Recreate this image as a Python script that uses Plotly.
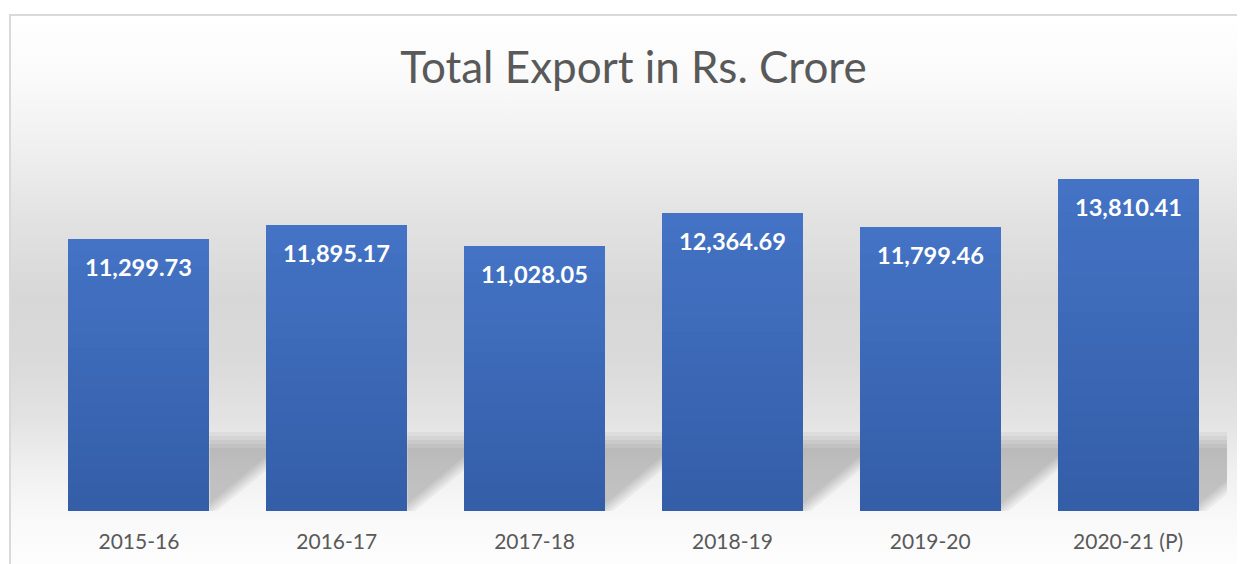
import base64
import plotly.graph_objects as go

# ---------------- data ----------------
categories = ["2015-16", "2016-17", "2017-18", "2018-19", "2019-20", "2020-21 (P)"]
values = [11299.73, 11895.17, 11028.05, 12364.69, 11799.46, 13810.41]
title_text = "Total Export in Rs. Crore"

# ---------------- layout constants ----------------
# the page body has an 8px margin, so the figure is drawn 8px in from the corner
OFF = 8
W, H = 1245 - OFF, 564 - OFF
ML, MR, MT, MB = 32, 18, 142, 53
YMAX = 15000
BARGAP = 0.288
pw = W - ML - MR
ph = H - MT - MB
px_per_x = pw / len(categories)
px_per_y = ph / YMAX

FONT = "Lato"
TXT = "#595959"

fig = go.Figure()
xs = list(range(len(categories)))

# bars with vertical gradient (stacked slices of each bar's own value)
N = 20
top_c = (68, 114, 196)
bot_c = (52, 94, 168)
for k in range(N):
    t = k / (N - 1)
    c = tuple(round(bot_c[j] + (top_c[j] - bot_c[j]) * t) for j in range(3))
    fig.add_trace(go.Bar(
        x=xs, y=[v / N for v in values],
        marker=dict(color="rgb(%d,%d,%d)" % c, line=dict(width=0)),
        customdata=values,
        hovertemplate="%{customdata:,.2f}<extra></extra>",
        showlegend=False,
    ))

# floor shadows to the right of each bar (soft, several layers)
half = (1 - BARGAP) / 2
r = 85 / 71
shapes = []
for i in xs:
    xr = i + half
    for s in range(5):
        sh = 8 - 4 * s
        htop = 71 + sh
        pts = [(0, htop), (sh + htop * r, htop), (0, -sh / r)]
        d = "M " + " L ".join(
            "%f,%f" % (xr + dx / px_per_x, up / px_per_y) for dx, up in pts
        ) + " Z"
        shapes.append(dict(type="path", path=d, xref="x", yref="y",
                           fillcolor="rgba(0,0,0,0.042)", line=dict(width=0),
                           layer="below"))

# data labels
annotations = []
for i, v in zip(xs, values):
    annotations.append(dict(
        x=i, y=v, xref="x", yref="y", text="<b>%s</b>" % f"{v:,.2f}",
        showarrow=False, yanchor="middle", yshift=-28,
        font=dict(family=FONT, size=23.6, color="white"),
    ))

# background (wall/floor gradient + chart border), in figure pixel coords
stops = [(6, "#ffffff"), (72, "#fafafa"), (142, "#efefef"), (212, "#e2e2e2"),
         (292, "#d7d7d7"), (352, "#dadada"), (412, "#e3e3e3"), (462, "#f0f0f0"),
         (512, "#f9f9f9"), (556, "#fdfdfd")]
stop_xml = "".join(
    '<stop offset="%.4f" stop-color="%s"/>' % ((y - 6) / (H - 6), c) for y, c in stops
)
svg = (
    '<svg xmlns="http://www.w3.org/2000/svg" width="%d" height="%d" viewBox="0 0 %d %d" preserveAspectRatio="none">'
    '<defs><linearGradient id="g" x1="0" y1="0" x2="0" y2="1">%s</linearGradient></defs>'
    '<rect x="0" y="0" width="%d" height="%d" fill="#ffffff"/>'
    '<rect x="2" y="6" width="%d" height="%d" fill="url(#g)"/>'
    '<path d="M2,%d V7 H%d" stroke="#d9d9d9" stroke-width="2" fill="none"/>'
    '</svg>'
) % (W, H, W, H, stop_xml, W, H, W - 2, H - 6, H, W)
src = "data:image/svg+xml;base64," + base64.b64encode(svg.encode()).decode()

fig.update_layout(
    width=W, height=H,
    margin=dict(l=ML, r=MR, t=MT, b=MB, pad=0),
    barmode="stack", bargap=BARGAP,
    paper_bgcolor="white", plot_bgcolor="rgba(0,0,0,0)",
    title=dict(text=title_text, xref="paper", x=0.5, xanchor="center",
               yref="container", y=1 - 60 / H, yanchor="middle",
               font=dict(family=FONT, size=44, color=TXT)),
    xaxis=dict(tickmode="array", tickvals=xs, ticktext=categories,
               range=[-0.5, len(categories) - 0.5], showgrid=False,
               zeroline=False, showline=False, ticks="",
               tickfont=dict(family=FONT, size=21, color=TXT),
               ticklabelstandoff=16, fixedrange=True),
    yaxis=dict(range=[0, YMAX], visible=False, fixedrange=True),
    shapes=shapes,
    annotations=annotations,
    images=[dict(source=src, xref="paper", yref="paper",
                 x=-ML / pw, y=1 + MT / ph, sizex=W / pw, sizey=H / ph,
                 xanchor="left", yanchor="top", sizing="stretch", layer="below")],
)

fig.write_html("out.html")
